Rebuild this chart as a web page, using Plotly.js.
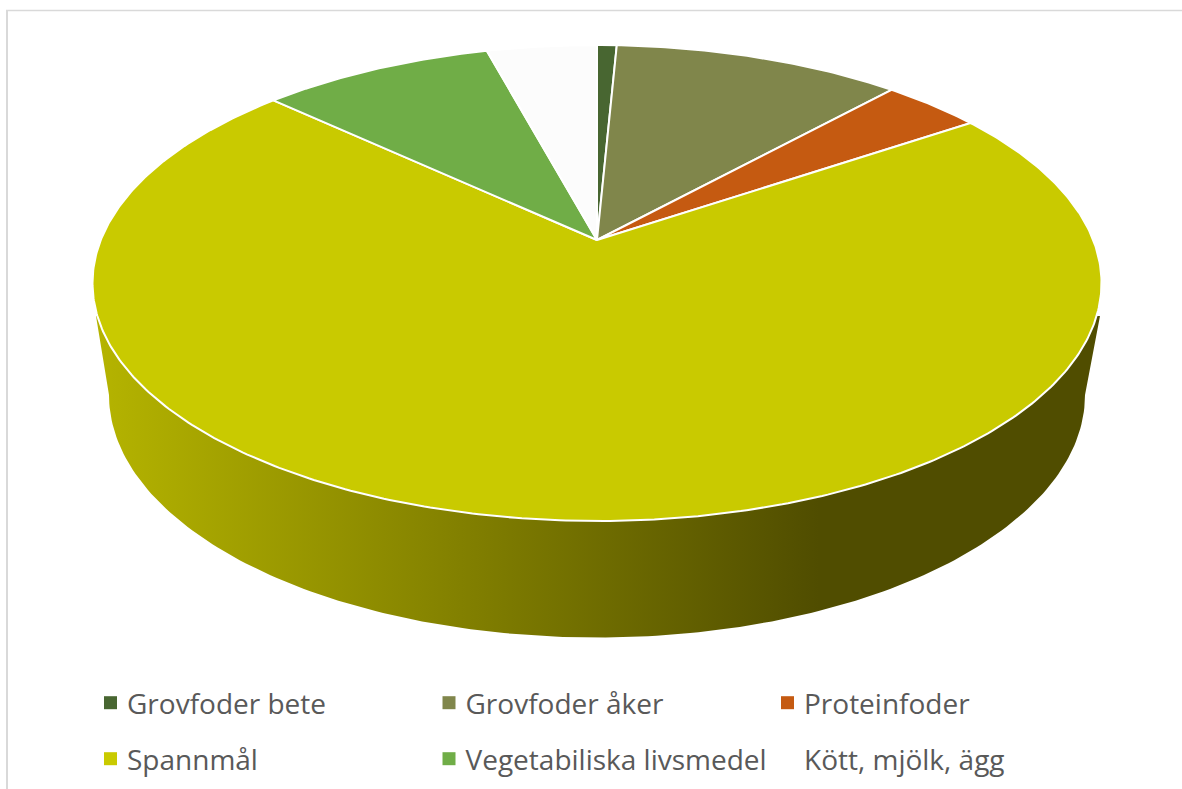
<!DOCTYPE html>
<html><head><meta charset="utf-8">
<script src="https://cdn.plot.ly/plotly-3.0.1.min.js"></script>
<style>html,body{margin:0;padding:0;background:#fff;overflow:hidden}#c{width:1182px;height:789px}</style>
</head><body><div id="c"></div>
<script>
const categories = ["Grovfoder bete","Grovfoder åker","Proteinfoder","Spannmål","Vegetabiliska livsmedel","Kött, mjölk, ägg"];
const shares = [0.75, 11.0, 3.8, 71.37, 8.88, 4.2];
const colors = ["#486631","#80864B","#C55A11","#C9CA00","#70AD47","#FCFCFC"];
const row1 = [0,1,2];
const row2 = [3,4,5];

// perspective view of the round pie top
const cx=597, cy=240, a=496.2, b=230.2, k=0.1807;
const project = th => { const u=Math.sin(th), v=Math.cos(th), w=1+k*v; return [cx+a*u/w, cy-b*v/w]; };
const total = shares.reduce((s,v)=>s+v,0);

const traces = [];
// side wall: bottom rim, closed up to the top rim
const wallX=[], wallY=[];
wallX.push(96); wallY.push(316);
wallX.push(1100); wallY.push(316);
const A=488,B=242.5,Cx=597,Cy=395;
for(let i=0;i<=180;i++){ const t=i/180*Math.PI; wallX.push(Cx+A*Math.cos(t)); wallY.push(Cy+B*Math.sin(t)); }
wallX.push(96); wallY.push(316);
traces.push({type:'scatter',mode:'lines',x:wallX,y:wallY,fill:'toself',line:{width:0,color:'rgba(0,0,0,0)'},
  fillgradient:{type:'horizontal',colorscale:[[0,'#B5B400'],[0.72,'#504D00'],[1,'#504D00']]},
  showlegend:false,hoverinfo:'skip'});

// top slices
let cum=0;
shares.forEach((val,i)=>{
  const th0=cum/total*2*Math.PI, th1=(cum+val)/total*2*Math.PI; cum+=val;
  const n=Math.max(4,Math.ceil(val*6));
  const xs=[cx], ys=[cy];
  for(let j=0;j<=n;j++){ const p=project(th0+(th1-th0)*j/n); xs.push(p[0]); ys.push(p[1]); }
  xs.push(cx); ys.push(cy);
  traces.push({type:'scatter',mode:'lines',x:xs,y:ys,fill:'toself',fillcolor:colors[i],
    line:{color:'#FFFFFF',width:2},showlegend:false,name:categories[i],hoverinfo:'name'});
});
// legend keys
[[row1,'legend'],[row2,'legend2']].forEach(([row,lg])=>row.forEach(i=>{
  traces.push({type:'scatter',mode:'markers',x:[null],y:[null],name:categories[i],legend:lg,
    marker:{symbol:'square',size:13,color:i===5?'#FFFFFF':colors[i]},showlegend:true,hoverinfo:'skip'});
}));

const legendCommon={orientation:'h',xref:'paper',yref:'paper',xanchor:'left',yanchor:'middle',
  entrywidth:293.5,entrywidthmode:'pixels',bgcolor:'rgba(0,0,0,0)',borderwidth:0,traceorder:'normal',
  font:{family:'"Open Sans",sans-serif',size:28,color:'#595959'},itemclick:false,itemdoubleclick:false};
const layout={width:1182,height:789,margin:{l:0,r:0,t:0,b:0,autoexpand:false},paper_bgcolor:'#fff',plot_bgcolor:'#fff',
  showlegend:true,
  xaxis:{range:[0,1182],visible:false,fixedrange:true},
  yaxis:{range:[789,0],visible:false,fixedrange:true},
  legend:Object.assign({},legendCommon,{x:87/1182,y:1-703/789}),
  legend2:Object.assign({},legendCommon,{x:87/1182,y:1-759/789}),
  shapes:[
    {type:'line',xref:'paper',yref:'paper',x0:7/1182,x1:7/1182,y0:0,y1:1-10.5/789,line:{color:'#D9D9D9',width:2}},
    {type:'line',xref:'paper',yref:'paper',x0:6/1182,x1:1,y0:1-10.5/789,y1:1-10.5/789,line:{color:'#D9D9D9',width:1.5}}
  ]};
Plotly.newPlot('c',traces,layout,{displayModeBar:false}).then(gd=>{
  // nudge the legend keys toward their labels
  gd.querySelectorAll('.legendsymbols').forEach(g=>g.setAttribute('transform','translate(3.5,0)'));
});
</script></body></html>
